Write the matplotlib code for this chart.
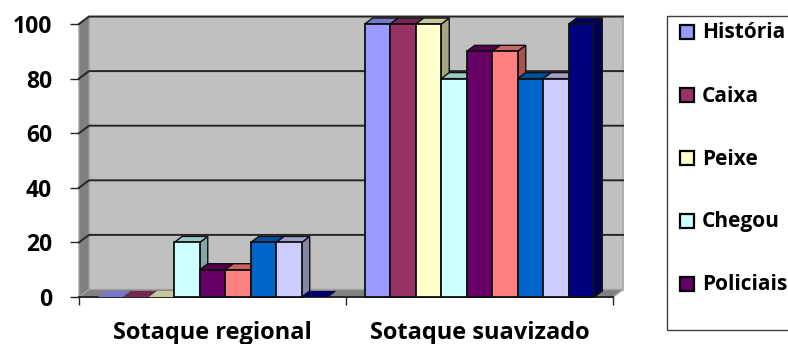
import matplotlib
matplotlib.use('Agg')
import matplotlib.pyplot as plt
from matplotlib.patches import Polygon, Rectangle

plt.rcParams['font.family'] = ['Open Sans', 'DejaVu Sans']
plt.rcParams['font.weight'] = 'bold'

# data
groups = ['Sotaque regional', 'Sotaque suavizado']
yticks = [0, 20, 40, 60, 80, 100]
legend_labels = ['História', 'Caixa', 'Peixe', 'Chegou', 'Policiais']
colors = ['#9999FF', '#993366', '#FFFFCC', '#CCFFFF', '#660066',
          '#FF8080', '#0066CC', '#CCCCFF', '#000080']
regional = [0, 0, 0, 20, 10, 10, 20, 20, 0]
suavizado = [100, 100, 100, 80, 90, 90, 80, 80, 100]

W, H = 788, 344
fig = plt.figure(figsize=(W / 100, H / 100), dpi=100)
L, R, T, B = 79, 613, 24, 297
ax = fig.add_axes([L / W, 1 - B / H, (R - L) / W, (B - T) / H])
ax.set_xlim(0, 2)
ax.set_ylim(0, 100)

# pixel sizes expressed in data units
px = 2 / (R - L)
py = 100 / (B - T)
wall_dx, wall_dy = 10 * px, 7.5 * py
bar_dx, bar_dy = 8 * px, 6 * py
bar_w = 25.5 * px


def poly(pts, face, edge='none', lw=0.0, z=1):
    ax.add_patch(Polygon(pts, closed=True, facecolor=face, edgecolor=edge,
                         linewidth=lw, zorder=z, clip_on=False))


def shade(c, k):
    r, g, b = matplotlib.colors.to_rgb(c)
    return (r * k, g * k, b * k)


# walls and floor
poly([(wall_dx, wall_dy), (2 + wall_dx, wall_dy), (2 + wall_dx, 100 + wall_dy),
      (wall_dx, 100 + wall_dy)], '#C0C0C0', '#A6A6A6', 1.2)
poly([(0, 0), (wall_dx, wall_dy), (wall_dx, 100 + wall_dy), (0, 100)],
     '#808080', '#A0A0A0', 1.0)
poly([(0, 0), (2, 0), (2 + wall_dx, wall_dy), (wall_dx, wall_dy)],
     '#808080', '#A0A0A0', 1.0)

# gridlines run along the side wall and the back wall
for v in yticks[1:]:
    ax.plot([0, wall_dx, 2 + wall_dx], [v, v + wall_dy, v + wall_dy],
            color='#262626', lw=1.4, zorder=2, clip_on=False,
            solid_joinstyle='miter')
ax.plot([0, 2], [0, 0], color='#262626', lw=1.4, zorder=2, clip_on=False)

# 3d bars, drawn left to right so each one hides the side of the previous
z = 3
for g, vals in enumerate([regional, suavizado]):
    x0 = g + 0.5 - bar_w * len(vals) / 2
    for i, v in enumerate(vals):
        x = x0 + i * bar_w
        c = colors[i]
        poly([(x + bar_w, 0), (x + bar_w + bar_dx, bar_dy),
              (x + bar_w + bar_dx, v + bar_dy), (x + bar_w, v)],
             shade(c, 0.65), '#101010', 1.0, z)
        poly([(x, v), (x + bar_dx, v + bar_dy),
              (x + bar_w + bar_dx, v + bar_dy), (x + bar_w, v)],
             shade(c, 0.78), '#101010' if v > 0 else 'none', 1.0, z)
        if v > 0:
            ax.bar(x, v, bar_w, align='edge', color=c, edgecolor='#101010',
                   linewidth=1.3, zorder=z + 0.5, clip_on=False)
        z += 1

for s in ax.spines.values():
    s.set_visible(False)
ax.set_yticks(yticks)
ax.set_xticks([0, 1, 2])
ax.set_xticklabels([])
ax.set_xticks([0.5, 1.5], minor=True)
ax.set_xticklabels(groups, minor=True)
ax.tick_params(axis='y', length=6.5, width=1, color='#262626', pad=13, labelsize=16.5)
ax.tick_params(axis='x', which='major', length=5.5, width=1, color='#262626')
ax.tick_params(axis='x', which='minor', length=0, pad=17, labelsize=17)

# legend box runs past the right edge of the figure
fig.add_artist(Rectangle((667 / W, 1 - 330 / H), 140 / W, 314 / H,
                         transform=fig.transFigure, facecolor='white',
                         edgecolor='#404040', linewidth=1.0))
for i, name in enumerate(legend_labels):
    yc = 31.5 + i * 63
    fig.add_artist(Rectangle((680 / W, 1 - (yc + 7) / H), 14 / W, 14 / H,
                             transform=fig.transFigure, facecolor=colors[i],
                             edgecolor='black', linewidth=1.6))
    fig.text(702 / W, 1 - (yc + 7) / H, name, fontsize=15, fontweight='bold',
             va='baseline', ha='left', color='black')

fig.savefig('out.png', dpi=100)
